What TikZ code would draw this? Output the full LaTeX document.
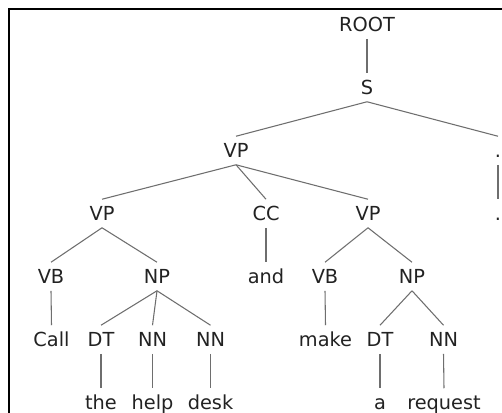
\documentclass[tikz,border=0pt]{standalone}
\usepackage{fontspec}
\setmainfont{DejaVu Sans}
\definecolor{txt}{HTML}{222222}
\definecolor{edge}{HTML}{6E6E6E}
\tikzset{
  lbl/.style={text=txt, font=\fontsize{14.5pt}{16pt}\selectfont, text height=10.5pt, text depth=0pt, inner ysep=5.25pt, inner xsep=0pt, anchor=center},
  br/.style={draw=edge, line width=0.8pt},
  frameline/.style={draw=black, line width=1.3pt}
}
\begin{document}
\begin{tikzpicture}[x=0.75pt,y=-0.75pt]
\useasboundingbox (0,0) rectangle (502,412);
\draw[frameline] (9,420) -- (9,9) -- (510,9);
% row 0-2
\node[lbl] (root) at (367,24.5) {ROOT};
\node[lbl] (s) at (367,87.5) {S};
\node[lbl] (vp) at (236,150.5) {VP};
\node[lbl] (pd) at (498,150.5) {.};
% row 3
\node[lbl] (vpl) at (102,213.5) {VP};
\node[lbl] (cc) at (266,213.5) {CC};
\node[lbl] (vpr) at (368,213.5) {VP};
\node[lbl] (dot) at (498,213.5) {.};
% row 4
\node[lbl] (vbl) at (51,276.5) {VB};
\node[lbl] (npl) at (157,276.5) {NP};
\node[lbl] (and) at (266,276.5) {and};
\node[lbl] (vbr) at (325,276.5) {VB};
\node[lbl] (npr) at (412,276.5) {NP};
% row 5
\node[lbl] (call) at (51.5,339.5) {Call};
\node[lbl] (dt1) at (101,339.5) {DT};
\node[lbl] (nn1) at (152.5,339.5) {NN};
\node[lbl] (nn2) at (210.5,339.5) {NN};
\node[lbl] (make) at (325.5,339.5) {make};
\node[lbl] (dt2) at (380,339.5) {DT};
\node[lbl] (nn3) at (443.5,339.5) {NN};
% row 6
\node[lbl] (the) at (101,402.5) {the};
\node[lbl] (help) at (152.5,402.5) {help};
\node[lbl] (desk) at (210.5,402.5) {desk};
\node[lbl] (a) at (380,402.5) {a};
\node[lbl] (request) at (444,402.5) {request};
% branches
\draw[br] (root.south) -- (s.north);
\draw[br] (s.south) -- (vp.north);
\draw[br] (s.south) -- (pd.north);
\draw[br] (pd.south) -- (dot.north);
\draw[br] (vp.south) -- (vpl.north);
\draw[br] (vp.south) -- (cc.north);
\draw[br] (vp.south) -- (vpr.north);
\draw[br] (vpl.south) -- (vbl.north);
\draw[br] (vpl.south) -- (npl.north);
\draw[br] (cc.south) -- (and.north);
\draw[br] (vpr.south) -- (vbr.north);
\draw[br] (vpr.south) -- (npr.north);
\draw[br] (vbl.south) -- (call.north);
\draw[br] (npl.south) -- (dt1.north);
\draw[br] (npl.south) -- (nn1.north);
\draw[br] (npl.south) -- (nn2.north);
\draw[br] (vbr.south) -- (make.north);
\draw[br] (npr.south) -- (dt2.north);
\draw[br] (npr.south) -- (nn3.north);
\draw[br] (dt1.south) -- (the.north);
\draw[br] (nn1.south) -- (help.north);
\draw[br] (nn2.south) -- (desk.north);
\draw[br] (dt2.south) -- (a.north);
\draw[br] (nn3.south) -- (request.north);
\end{tikzpicture}
\end{document}
